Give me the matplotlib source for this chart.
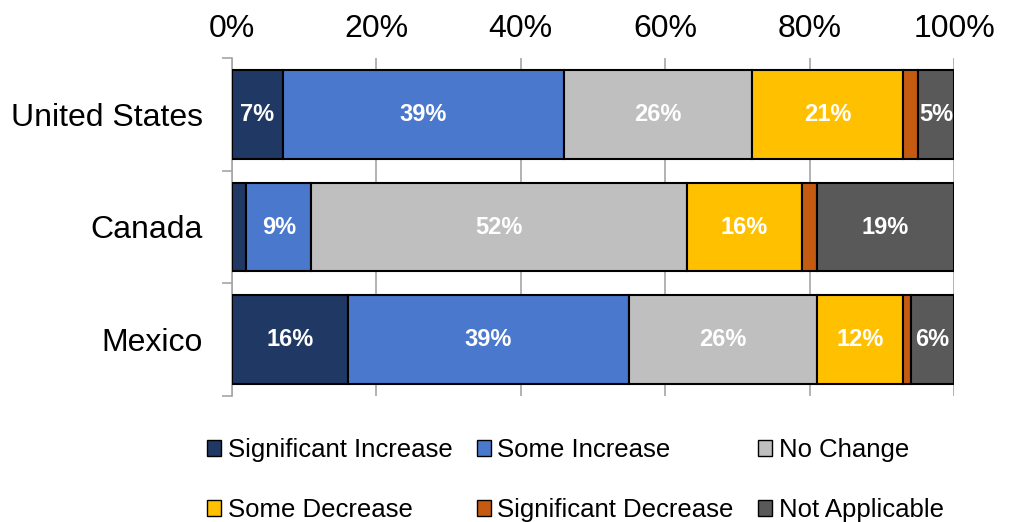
import numpy as np
import matplotlib.pyplot as plt
from matplotlib.patches import Patch

plt.rcParams['font.family'] = ['Liberation Sans', 'DejaVu Sans']

# Survey responses by country (percent of respondents)
countries = ['United States', 'Canada', 'Mexico']
categories = ['Significant Increase', 'Some Increase', 'No Change',
              'Some Decrease', 'Significant Decrease', 'Not Applicable']
sig_increase = [7, 2, 16]
some_increase = [39, 9, 39]
no_change = [26, 52, 26]
some_decrease = [21, 16, 12]
sig_decrease = [2, 2, 1]
not_applicable = [5, 19, 6]
tick_labels = ['0%', '20%', '40%', '60%', '80%', '100%']

colors = ['#1F3864', '#4A78CC', '#BFBFBF', '#FFC000', '#C55A11', '#595959']
series = [sig_increase, some_increase, no_change, some_decrease, sig_decrease, not_applicable]

fig = plt.figure(figsize=(10.09, 5.22), dpi=100)
ax = fig.add_axes([232 / 1009, 1 - 396 / 522, 722 / 1009, 338 / 522])

y = np.arange(len(countries))
left = np.zeros(len(countries))
handles = []
for name, vals, col in zip(categories, series, colors):
    vals = np.array(vals, dtype=float)
    ax.barh(y, vals, left=left, height=0.785, color=col, edgecolor='black',
            linewidth=1.5, zorder=3)
    for yi, v, l in zip(y, vals, left):
        if v >= 5:
            ax.text(l + v / 2, yi, f'{int(v)}%', ha='center', va='center',
                    color='white', fontsize=17, fontweight='bold', zorder=4)
    left += vals
    handles.append(Patch(facecolor=col, edgecolor='black', linewidth=1))

ax.set_xlim(0, 100)
ax.set_ylim(2.5, -0.5)
ax.set_xticks(np.arange(0, 101, 20))
ax.set_xticklabels(tick_labels, fontsize=23)
ax.xaxis.tick_top()
ax.tick_params(axis='x', length=0, pad=10)
ax.grid(axis='x', color='#A6A6A6', linewidth=1.2, zorder=0)

ax.set_yticks(y)
ax.set_yticklabels(countries, fontsize=23)
ax.tick_params(axis='y', which='major', length=0, pad=21)
ax.set_yticks([-0.5, 0.5, 1.5, 2.5], minor=True)
ax.tick_params(axis='y', which='minor', length=7, color='#A6A6A6', width=1.2)

for s in ['top', 'right', 'bottom']:
    ax.spines[s].set_visible(False)
ax.spines['left'].set_color('#A6A6A6')
ax.spines['left'].set_linewidth(1.2)

# reorder so the legend reads row by row in three columns
order = [0, 3, 1, 4, 2, 5]
fig.legend([handles[i] for i in order], [categories[i] for i in order],
           loc='lower left', bbox_to_anchor=(207 / 1009, 0.0), ncol=3,
           frameon=False, fontsize=18.5, handlelength=0.55, handleheight=0.55,
           handletextpad=0.25, columnspacing=0.95, labelspacing=1.4,
           borderpad=0.0, borderaxespad=0)

fig.savefig('out.png', dpi=100)
